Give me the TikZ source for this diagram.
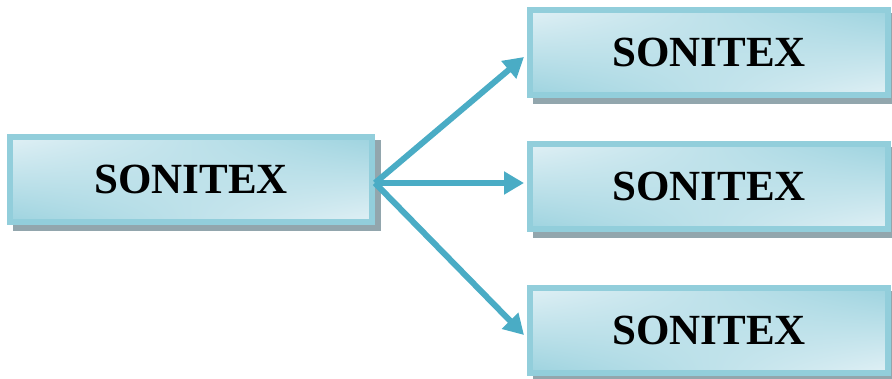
\documentclass[tikz,border=0pt]{standalone}
\usepackage{fontspec}
\setmainfont{Liberation Serif}
\usetikzlibrary{arrows.meta,calc,shadows,shadings}
\definecolor{frameblue}{HTML}{92CEDB}
\definecolor{paleblue}{HTML}{E0F0F5}
\definecolor{deepblue}{HTML}{9DD3DF}
\definecolor{shadowgray}{HTML}{92A6AD}
\definecolor{arrowblue}{HTML}{4AACC5}
\tikzset{
  sonibox/.style={rectangle, draw=frameblue, line width=6pt,
    upper left=paleblue, upper right=deepblue,
    lower left=deepblue, lower right=paleblue,
    minimum height=85pt, inner sep=0pt,
    font=\fontsize{43}{48}\selectfont\bfseries,
    drop shadow={shadow xshift=6pt, shadow yshift=-6pt, opacity=1,
      fill=shadowgray, draw=shadowgray, line width=6pt}},
  link/.style={draw=arrowblue, line width=6pt,
    -{Triangle[length=20pt,width=22pt]}}
}
\begin{document}
\begin{tikzpicture}[x=1pt,y=1pt]
\useasboundingbox (0,0) rectangle (892,378);
% source box
\node[sonibox, minimum width=362pt] (L) at (191,198.5) {SONITEX};
% target boxes
\node[sonibox, minimum width=358pt] (R1) at (709,325.5) {SONITEX};
\node[sonibox, minimum width=358pt] (R2) at (709,191.5) {SONITEX};
\node[sonibox, minimum width=358pt] (R3) at (709,48) {SONITEX};
% connectors
\coordinate (s) at ($(L.east)+(0,-3.5)$);
\draw[link] (s) -- ($(R1.west)+(-3,-4.5)$);
\draw[link] (s) -- ($(R2.west)+(-3,3.5)$);
\draw[link] (s) -- ($(R3.west)+(-3,-5)$);
\end{tikzpicture}
\end{document}
